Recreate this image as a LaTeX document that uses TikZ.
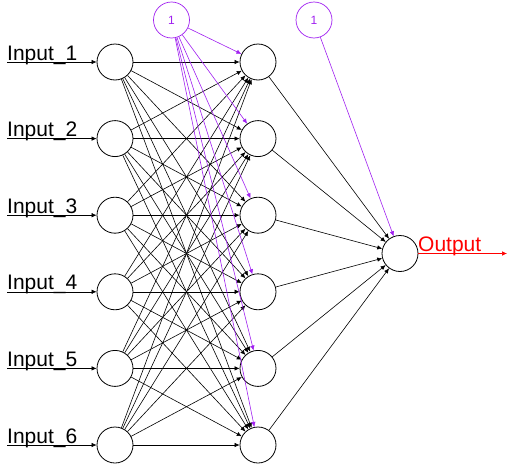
\documentclass[tikz,border=0pt]{standalone}
\usepackage{fontspec}
\setmainfont{Liberation Sans}
\usetikzlibrary{arrows.meta}
\definecolor{biascol}{HTML}{A020F0}
\begin{document}
\begin{tikzpicture}[x=1pt,y=-1pt,
  neuron/.style={circle,draw,line width=0.8pt,minimum size=36pt,inner sep=0pt},
  biasnode/.style={circle,draw=biascol,text=biascol,line width=0.7pt,minimum size=36pt,inner sep=0pt,font=\fontsize{12}{12}\selectfont},
  conn/.style={line width=0.6pt,-{Latex[length=5pt,width=4.5pt]}},
  bconn/.style={conn,draw=biascol,-{Latex[length=5pt,width=4.5pt,fill=biascol]}},
  lab/.style={anchor=base west,inner sep=0pt,font=\fontsize{21}{21}\selectfont}]
\useasboundingbox (0,0) rectangle (507,466);
\foreach \k/\y in {1/62,2/138.6,3/215.2,4/291.8,5/368.4,6/445}{
  \node[neuron] (i\k) at (115,\y) {};
  \node[neuron] (h\k) at (258,\y) {};
  \coordinate (s\k) at (7,\y);
  \node[lab] (l\k) at (7,\y-2) {Input\_\k};
}
\node[neuron] (o) at (400,253.5) {};
\node[biasnode] (b1) at (171.5,20) {1};
\node[biasnode] (b2) at (314,20) {1};
\coordinate (oe) at (507,253.5);
\node[lab,text=red] (ol) at (418,251.5) {Output};
\foreach \k in {1,...,6}{
  \draw[conn] (s\k) -- (i\k);
  \foreach \j in {1,...,6}{
    \draw[conn] (i\k) -- (h\j);
  }
  \draw[conn] (h\k) -- (o);
}
\foreach \j in {1,...,6}{
  \draw[bconn] (b1) -- (h\j);
}
\draw[bconn] (b2) -- (o);
\draw[conn,red] (o) -- (oe);
\end{tikzpicture}
\end{document}
